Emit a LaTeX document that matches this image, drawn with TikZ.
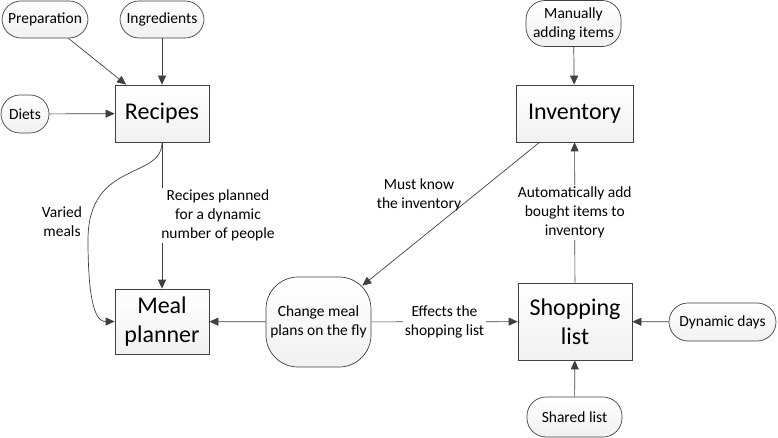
\documentclass[tikz,border=0pt]{standalone}
\usepackage{fontspec}
\setmainfont{Carlito}
\usetikzlibrary{arrows.meta,calc}
\definecolor{ln}{HTML}{404040}
\begin{document}
\begin{tikzpicture}[x=1pt,y=-1pt,
  base/.style={draw=ln,line width=0.7pt,top color=white,bottom color=gray!11,inner sep=0pt,align=center},
  bigbox/.style={base,rectangle,font=\fontsize{24}{29}\selectfont},
  pill/.style={base,rounded corners=19pt,font=\fontsize{15.5}{19}\selectfont},
  blob/.style={base,rounded corners=32pt,font=\fontsize{15.5}{19}\selectfont},
  lbl/.style={font=\fontsize{15.5}{19}\selectfont,align=center,inner sep=2pt},
  conn/.style={draw=ln,line width=0.7pt,-{Triangle[length=9pt,width=8pt]}}
]
\useasboundingbox (0,0) rectangle (778,438);
% main boxes
\node[bigbox,minimum width=94pt,minimum height=57pt] (rec) at (162,113.5) {Recipes};
\node[bigbox,minimum width=94pt,minimum height=65pt] (meal) at (162,321.5) {Meal\\planner};
\node[bigbox,minimum width=117pt,minimum height=57pt] (inv) at (574.5,113.5) {Inventory};
\node[bigbox,minimum width=114pt,minimum height=77pt] (shop) at (575,321.5) {Shopping\\list};
% pills
\node[pill,minimum width=86pt,minimum height=37pt] (prep) at (45,19.5) {Preparation};
\node[pill,minimum width=84pt,minimum height=37pt] (ingr) at (162,19.5) {Ingredients};
\node[pill,minimum width=48pt,minimum height=38pt] (diet) at (25,114) {Diets};
\node[pill,minimum width=95pt,minimum height=46pt] (man) at (573.5,23.5) {Manually\\adding items};
\node[pill,minimum width=107pt,minimum height=38pt] (dyn) at (722.5,322) {Dynamic days};
\node[pill,minimum width=95pt,minimum height=40pt] (shared) at (574.5,417) {Shared list};
\node[blob,minimum width=105pt,minimum height=90pt] (chg) at (318.5,322) {Change meal\\plans on the fly};
% connectors
\draw[conn] (prep) -- (rec);
\draw[conn] (ingr) -- (rec);
\draw[conn] (diet) -- (rec);
\draw[conn] (rec) -- node[lbl,fill=white,xshift=56pt] {Recipes planned\\for a dynamic\\number of people} (meal);
\draw[conn] (rec.south) .. controls (162,180) and (88,160) .. (88,240)
  .. controls (88,318) and (100,321.5) .. (meal.west);
\node[lbl] (varied) at (62,222) {Varied\\meals};
\draw[conn] (chg) -- (meal);
\draw[conn] (chg) -- node[lbl,fill=white] {Effects the\\shopping list} (shop);
\coordinate (chgtip) at ($(chg.north east)+(-9,9)$);
\coordinate (invout) at ($(inv.south)+(-35,0)$);
\draw[conn] (invout) -- (chgtip);
\node[lbl] (must) at (419,195) {Must know\\the inventory};
\draw[conn] (shop) -- node[lbl,fill=white] {Automatically add\\bought items to\\inventory} (inv);
\draw[conn] (man) -- (inv);
\draw[conn] (dyn) -- (shop);
\draw[conn] (shared) -- (shop);
\end{tikzpicture}
\end{document}
